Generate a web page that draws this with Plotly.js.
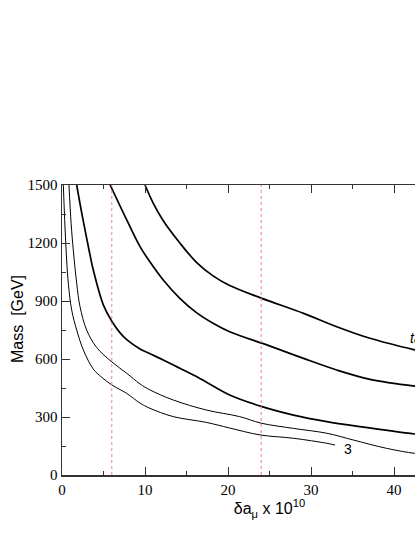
<!DOCTYPE html>
<html>
<head>
<meta charset="utf-8">
<script src="https://cdn.plot.ly/plotly-3.0.1.min.js"></script>
<style>
  html, body { margin: 0; padding: 0; overflow: hidden; background: white; }
</style>
</head>
<body>
<div id="myDiv1"></div>
<script>
// curves (x = delta a_mu x 10^10, y = mass in GeV)
var c1x = [10, 11, 12.2, 14.2, 16.2, 18.2, 20.2, 24, 29.1, 33.1, 37.1, 42.5, 44];
var c1y = [1500, 1405, 1315, 1200, 1100, 1030, 980, 915, 836, 767, 707, 647, 633];

var c2x = [5.8, 7.8, 9.4, 10.4, 12.2, 14.2, 16.2, 18.2, 20.2, 25, 29.1, 33.1, 37.1, 42.5, 44];
var c2y = [1500, 1319, 1181, 1115, 1009, 914, 840, 785, 741, 668, 603, 543, 495, 460, 454];

var c3x = [1.77, 2.4, 2.97, 3.37, 3.77, 4.98, 6, 7, 7.8, 9.4, 10.6, 12.2, 14.2, 16.2, 18.2, 20.2, 24, 27.9, 31.9, 35.9, 42.5, 44];
var c3y = [1500, 1350, 1225, 1140, 1060, 880, 795, 735, 700, 652, 627, 595, 552, 509, 460, 414, 355, 310, 276, 250, 212, 206];

var c4x = [0.84, 1.1, 1.36, 1.77, 2.17, 2.97, 4.17, 6, 7.8, 9.4, 10.6, 13.4, 17.4, 21.4, 24, 27.9, 31.9, 35.1, 39.1, 42.5, 44];
var c4y = [1500, 1300, 1164, 992, 871, 750, 660, 585, 526, 471, 440, 388, 336, 302, 268, 241, 216, 181, 138, 112, 108];

var c5x = [0.16, 0.45, 0.76, 1.17, 1.77, 2.57, 3.77, 4.8, 6, 7.8, 9.4, 10.6, 13.4, 17.4, 20.2, 23.9, 27.9, 31.9, 32.9];
var c5y = [1500, 1200, 992, 853, 750, 647, 548, 505, 466, 422, 372, 345, 302, 272, 243, 207, 190, 164, 155];

var vlines = [6, 24];
var labels = ["tanβ=50", "3"];
var labelX = [41.7, 33.7];
var labelY = [709, 137];

var data = [];
var curves = [[c1x, c1y, 1.7], [c2x, c2y, 1.7], [c3x, c3y, 1.7], [c4x, c4y, 1.0], [c5x, c5y, 1.0]];
curves.forEach(function (c) {
  data.push({
    x: c[0],
    y: c[1],
    type: "scatter",
    mode: "lines",
    line: { color: "black", width: c[2], shape: "spline", smoothing: 1 },
    hoverinfo: "skip",
  });
});
vlines.forEach(function (v) {
  data.push({
    x: [v, v],
    y: [0, 1500],
    type: "scatter",
    mode: "lines",
    line: { color: "#f08080", width: 1, dash: "dot" },
    hoverinfo: "skip",
  });
});

var annotations = labels.map(function (t, i) {
  return {
    x: labelX[i],
    y: labelY[i],
    text: i == 0 ? "<i>" + t + "</i>" : t,
    showarrow: false,
    xanchor: "left",
    yanchor: "middle",
    font: { family: "Liberation Sans", size: 14, color: "black" },
  };
});
// y title sits a bit above the middle in the picture, so it is placed by hand
annotations.push({
  xref: "paper",
  yref: "paper",
  x: -0.106,
  y: 0.538,
  text: "Mass  [GeV]",
  textangle: -90,
  showarrow: false,
  xanchor: "center",
  yanchor: "middle",
  font: { family: "Liberation Sans", size: 16, color: "black" },
});

var tickFont = { family: "'Liberation Serif', 'Times New Roman', serif", size: 15, color: "black" };

var layout = {
  width: 500,
  height: 537,
  showlegend: false,
  paper_bgcolor: "white",
  plot_bgcolor: "white",
  margin: { l: 62, r: 23, t: 185, b: 62 },
  annotations: annotations,
  xaxis: {
    range: [0, 50],
    showgrid: false,
    zeroline: false,
    showline: true,
    linecolor: "#333",
    linewidth: 1.5,
    mirror: "allticks",
    ticks: "inside",
    ticklen: 8,
    tickwidth: 1,
    tickcolor: "#333",
    dtick: 10,
    tick0: 0,
    minor: { dtick: 5, ticks: "inside", ticklen: 4, tickcolor: "#333" },
    tickfont: tickFont,
    title: {
      text: "δa<sub>μ</sub> x 10<sup>10</sup>",
      font: { family: "Liberation Sans", size: 16, color: "black" },
      standoff: 6,
    },
  },
  yaxis: {
    range: [0, 1500],
    showgrid: false,
    zeroline: false,
    showline: true,
    linecolor: "#333",
    linewidth: 1.5,
    mirror: "allticks",
    ticks: "inside",
    ticklen: 8,
    tickwidth: 1,
    tickcolor: "#333",
    dtick: 300,
    tick0: 0,
    minor: { dtick: 150, ticks: "inside", ticklen: 4, tickcolor: "#333" },
    tickfont: tickFont,
  },
};

var config = { displayModeBar: false, staticPlot: true };

Plotly.newPlot("myDiv1", data, layout, config);
</script>
</body>
</html>
